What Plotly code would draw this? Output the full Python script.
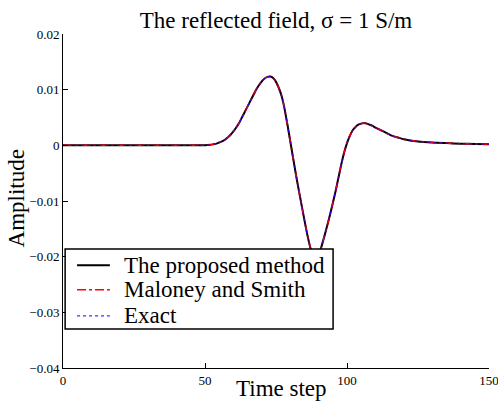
import plotly.graph_objects as go

# Time steps at which the reflected field was sampled
time_step = [0, 10, 20, 30, 40, 46, 48,
             50, 51, 52, 53, 54, 55, 56, 57, 58, 59, 60, 61, 62, 63, 64, 65, 66, 67, 68, 69,
             70, 71, 72, 73, 74, 75, 76, 77, 78, 79, 80, 81, 82, 83, 84, 85, 86, 87, 88, 89,
             90, 91, 92, 93, 94, 95, 96, 97, 98, 99, 100, 101, 102, 103, 104, 105, 106, 107,
             108, 109, 110, 112, 114, 116, 118, 120, 125, 130, 135, 140, 145, 150]

# Reflected field amplitude computed by the proposed method
proposed = [0.0, 0.0, 0.0, 0.0, 0.0, 0.0, 0.00001,
            0.00003, 0.00006, 0.0001, 0.0002, 0.0003, 0.0005, 0.0007, 0.0010, 0.0014, 0.0019,
            0.0025, 0.0032, 0.0040, 0.0050, 0.0060, 0.0070, 0.0080, 0.0090, 0.0100, 0.0108,
            0.0115, 0.0120, 0.0123, 0.01235, 0.0121, 0.0114, 0.0103, 0.0088, 0.0066, 0.0038,
            0.0008, -0.0022, -0.0052, -0.0080, -0.0107, -0.0134, -0.0160, -0.0182, -0.0198,
            -0.0204, -0.0197, -0.0182, -0.0164, -0.0145, -0.0125, -0.0104, -0.0082, -0.0058,
            -0.0034, -0.0013, 0.0004, 0.0017, 0.0027, 0.0033, 0.0037, 0.0039, 0.0040, 0.0039,
            0.0037, 0.0035, 0.0032, 0.0027, 0.0022, 0.0017, 0.0014, 0.0011, 0.0007, 0.0005,
            0.0004, 0.0003, 0.00025, 0.0002]

# Maloney and Smith scheme and the exact solution lie on the same curve
maloney_smith = list(proposed)
exact = list(proposed)

x_ticks = [0, 50, 100, 150]
y_ticks = [-0.04, -0.03, -0.02, -0.01, 0, 0.01, 0.02]
y_tick_text = ["\u22120.04", "\u22120.03", "\u22120.02", "\u22120.01", "0", "0.01", "0.02"]

series_names = ["The proposed method", "Maloney and Smith", "Exact"]
series_colors = ["black", "red", "blue"]
series_dash = ["solid", "dashdot", "dot"]
series_width = [2, 1.5, 1]

serif = "Liberation Serif"

fig = go.Figure()
for name, values, color, dash, width in zip(series_names, [proposed, maloney_smith, exact],
                                            series_colors, series_dash, series_width):
    fig.add_trace(go.Scatter(x=time_step, y=values, mode="lines", name=name, showlegend=False,
                             line=dict(color=color, width=width, dash=dash,
                                       shape="spline", smoothing=0.5)))

# Legend box drawn in paper coordinates (lower-left corner of the axes)
box_x0, box_x1, box_y0, box_y1 = 0.005, 0.634, 0.117, 0.356
row_y = [0.308, 0.234, 0.156]
sample_x0, sample_x1, text_x = 0.033, 0.110, 0.138

shapes = [dict(type="rect", xref="paper", yref="paper", x0=box_x0, x1=box_x1,
               y0=box_y0, y1=box_y1, fillcolor="white",
               line=dict(color="black", width=1.5), layer="above")]
annotations = []
for name, color, dash, width, yy in zip(series_names, series_colors, series_dash,
                                        series_width, row_y):
    shapes.append(dict(type="line", xref="paper", yref="paper", x0=sample_x0, x1=sample_x1,
                       y0=yy, y1=yy, line=dict(color=color, width=width, dash=dash),
                       layer="above"))
    annotations.append(dict(text=name, xref="paper", yref="paper", x=text_x, y=yy,
                            xanchor="left", yanchor="middle", showarrow=False,
                            font=dict(family=serif, size=23, color="black")))

# Axis titles
annotations.append(dict(text="Time step", xref="paper", yref="paper", x=0.514, y=-0.06,
                        xanchor="center", yanchor="middle", showarrow=False,
                        font=dict(family=serif, size=23, color="black")))
annotations.append(dict(text="Amplitude", xref="paper", yref="paper", x=-0.107, y=0.509,
                        xanchor="center", yanchor="middle", showarrow=False, textangle=-90,
                        font=dict(family=serif, size=23, color="black")))

axis_common = dict(showline=True, linecolor="black", linewidth=1, ticks="inside",
                   ticklen=5, tickcolor="black", showgrid=False, zeroline=False,
                   mirror=False, ticklabeloverflow="allow", automargin=False,
                   tickfont=dict(family=serif, size=13, color="black"))

fig.update_layout(
    width=498, height=407,
    margin=dict(l=63, r=9, t=34, b=39),
    paper_bgcolor="white", plot_bgcolor="white",
    title=dict(text="The reflected field, \u03c3 = 1 S/m", x=0.5, xref="paper", xanchor="center",
               y=0.95, yref="container", yanchor="middle",
               font=dict(family=serif, size=23, color="black")),
    xaxis=dict(range=[0, 150], tickvals=x_ticks, ticktext=[str(v) for v in x_ticks],
               **axis_common),
    yaxis=dict(range=[-0.04, 0.02], tickvals=y_ticks, ticktext=y_tick_text,
               **axis_common),
    shapes=shapes,
    annotations=annotations,
    showlegend=False,
)

fig.write_html("out.html")
